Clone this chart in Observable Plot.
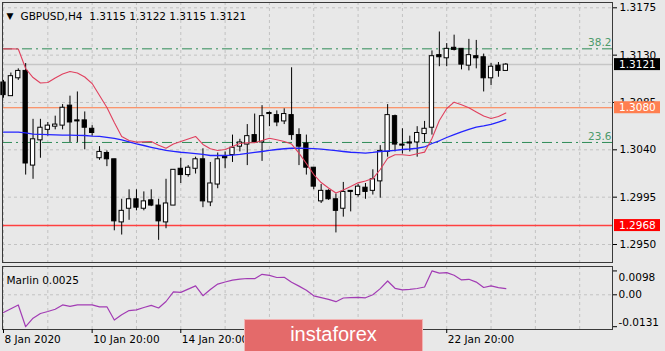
<!DOCTYPE html>
<html><head><meta charset="utf-8">
<script src="https://cdn.jsdelivr.net/npm/d3@7"></script>
<script src="https://cdn.jsdelivr.net/npm/@observablehq/plot@0.6"></script>
<style>
html,body{margin:0;padding:0;background:#e8e8e8;}
#chart{position:relative;width:665px;height:351px;overflow:hidden;background:#e8e8e8;font-family:"DejaVu Sans",sans-serif;}
#chart svg{position:absolute;left:0;}
#wm{position:absolute;left:244px;top:319px;width:177px;height:34px;background:#e46a6a;border:1px solid #f2b3b3;color:#fff;font:20px "Liberation Sans",Arial,sans-serif;text-align:center;line-height:29px;box-sizing:content-box;}
</style></head><body>
<div id="chart"><div id="wm">instaforex</div></div>
<script>
// ---- data (GBPUSD H4) ----
const opens  = [1.3104,1.3091,1.3108,1.3115,1.3025,1.3049,1.3059,1.3062,1.3063,1.3082,1.3068,1.3068,1.3060,1.3032,1.3037,1.3031,1.2971,1.2984,1.2993,1.2984,1.2992,1.2987,1.2971,1.2987,1.3022,1.3016,1.3022,1.3031,1.2990,1.3007,1.3034,1.3035,1.3043,1.3045,1.3054,1.3047,1.3074,1.3073,1.3067,1.3073,1.3054,1.3046,1.3023,1.2991,1.3001,1.2993,1.2984,1.3001,1.2997,1.3004,1.3001,1.3010,1.3038,1.3072,1.3045,1.3047,1.3047,1.3055,1.3061,1.3130,1.3127,1.3137,1.3136,1.3120,1.3129,1.3128,1.3108,1.3120,1.3115];
const highs  = [1.3106,1.3113,1.3117,1.3122,1.3069,1.3069,1.3066,1.3072,1.3083,1.3091,1.3095,1.3076,1.3063,1.3043,1.3039,1.3031,1.2993,1.3002,1.3002,1.3000,1.3002,1.2993,1.3012,1.3021,1.3032,1.3025,1.3033,1.3041,1.3028,1.3037,1.3038,1.3054,1.3050,1.3064,1.3074,1.3082,1.3076,1.3077,1.3079,1.3118,1.3060,1.3054,1.3023,1.3007,1.3002,1.2998,1.3009,1.3001,1.3007,1.3008,1.3021,1.3044,1.3083,1.3073,1.3060,1.3053,1.3062,1.3067,1.3134,1.3152,1.3141,1.3149,1.3136,1.3145,1.3144,1.3131,1.3122,1.3123,1.3122];
const lows   = [1.3089,1.3091,1.3106,1.3016,1.3012,1.3032,1.3053,1.3059,1.3059,1.3047,1.3047,1.3040,1.3053,1.3030,1.3024,1.2963,1.2959,1.2973,1.2982,1.2982,1.2986,1.2954,1.2965,1.2987,1.3008,1.3014,1.3017,1.2985,1.2986,1.3003,1.3022,1.3028,1.3038,1.3025,1.3047,1.3029,1.3062,1.3062,1.3064,1.3049,1.3025,1.3016,1.3002,1.2989,1.2992,1.2961,1.2976,1.2981,1.2995,1.2993,1.2997,1.2994,1.3033,1.3038,1.3036,1.3038,1.3033,1.3047,1.3054,1.3119,1.3119,1.3134,1.3116,1.3115,1.3117,1.3095,1.3101,1.3109,1.3115];
const closes = [1.3092,1.3110,1.3115,1.3027,1.3050,1.3061,1.3063,1.3064,1.3080,1.3066,1.3067,1.3061,1.3056,1.3038,1.3031,1.2972,1.2982,1.2993,1.2985,1.2991,1.2987,1.2972,1.2989,1.3021,1.3016,1.3023,1.3031,1.2991,1.3008,1.3031,1.3032,1.3042,1.3047,1.3053,1.3047,1.3072,1.3075,1.3066,1.3074,1.3054,1.3043,1.3023,1.3005,1.3001,1.2993,1.2982,1.3000,1.3000,1.3005,1.3000,1.3012,1.3039,1.3073,1.3045,1.3044,1.3046,1.3056,1.3060,1.3129,1.3128,1.3136,1.3135,1.3121,1.3130,1.3127,1.3108,1.3119,1.3115,1.3121];
const maRed  = [1.31360,1.31360,1.31358,1.31173,1.31087,1.31035,1.31040,1.31083,1.31120,1.31144,1.31130,1.31092,1.31030,1.30916,1.30802,1.30660,1.30527,1.30489,1.30473,1.30476,1.30479,1.30444,1.30415,1.30456,1.30479,1.30503,1.30527,1.30451,1.30410,1.30394,1.30403,1.30432,1.30460,1.30467,1.30467,1.30489,1.30510,1.30495,1.30479,1.30455,1.30369,1.30270,1.30165,1.30089,1.30037,1.29990,1.30018,1.30051,1.30086,1.30104,1.30127,1.30213,1.30320,1.30353,1.30353,1.30346,1.30362,1.30378,1.30508,1.30679,1.30793,1.30853,1.30828,1.30800,1.30760,1.30722,1.30698,1.30717,1.30750];
const maBlue = [1.30568,1.30568,1.30568,1.30562,1.30549,1.30546,1.30544,1.30542,1.30540,1.30539,1.30537,1.30536,1.30531,1.30528,1.30518,1.30508,1.30495,1.30476,1.30457,1.30441,1.30424,1.30408,1.30395,1.30386,1.30377,1.30371,1.30364,1.30357,1.30346,1.30346,1.30346,1.30350,1.30357,1.30367,1.30375,1.30384,1.30394,1.30403,1.30410,1.30415,1.30415,1.30414,1.30411,1.30407,1.30399,1.30392,1.30384,1.30377,1.30374,1.30369,1.30375,1.30384,1.30389,1.30394,1.30403,1.30408,1.30415,1.30427,1.30460,1.30486,1.30517,1.30544,1.30571,1.30595,1.30615,1.30627,1.30641,1.30664,1.30686];
const marlin = [-0.00727,-0.00571,-0.00419,-0.0131,-0.00961,-0.00768,-0.00686,-0.00595,-0.00415,-0.00472,-0.00411,-0.00411,-0.00411,-0.00493,-0.00493,-0.01035,-0.00821,-0.00649,-0.0062,-0.00522,-0.00435,-0.00542,-0.00275,0.00123,0.00099,0.00234,0.00366,-0.00037,0.00218,0.00439,0.00526,0.00604,0.00641,0.00669,0.00661,0.00842,0.00797,0.0071,0.00719,0.00517,0.00357,0.00189,-0.00041,-0.00115,-0.00189,-0.00283,-0.00131,-0.00115,-0.00103,-0.00123,0,0.00255,0.00567,0.00267,0.00205,0.00226,0.00259,0.0032,0.0098,0.00891,0.00912,0.00801,0.00612,0.00637,0.00522,0.003,0.00366,0.00296,0.0025];
const priceTicks = [1.3175,1.3130,1.3085,1.3040,1.2995,1.2950];
const fibLevels = [{price:1.3136,label:"38.2"},{price:1.3047,label:"23.6"}];
const levelOrange = 1.3080, levelRed = 1.2968, bidPrice = 1.3121;
const gridIdx = [0,6,12,18,24,30,36,42,48,54,60,66,72,78];
const timeTickIdx = [0,12,24,60];
const timeTickLabels = ["8 Jan 2020","10 Jan 20:00","14 Jan 20:00","22 Jan 20:00"];
const marlinTicks = [0.0098,0,-0.0131];
const marlinTickLabels = ["0.0098","0.00","-0.0131"];
const title = "GBPUSD,H4  1.3115 1.3122 1.3115 1.3121";
const indName = "Marlin 0.0025";

const rows = opens.map((o,i)=>({i,o,h:highs[i],l:lows[i],c:closes[i],red:maRed[i],blue:maBlue[i],m:marlin[i]}));
const timeTicks = timeTickIdx.map((i,k)=>({i,label:timeTickLabels[k]}));
const mTicks = marlinTicks.map((v,k)=>({v,label:marlinTickLabels[k]}));
const mLabelDy = [7, 0, -4]; // MT4 clamps the max/min labels inside the window

const xDomain = [-0.135, 82.44];
const FONT = "DejaVu Sans";
const gridStyle = {stroke:"#c2c2c2", strokeDasharray:"3,3", strokeWidth:1};

function priceBoxes(items){
  return (index, scales, values, dims) => {
    const g = d3.create("svg:g").attr("font-family", FONT).attr("font-size", 10.5).attr("text-anchor", "start");
    const x0 = dims.width - dims.marginRight + 2;
    for (const b of items){
      const y = scales.y(b.price);
      g.append("rect").attr("x", x0).attr("y", y - 6).attr("width", 46).attr("height", 12).attr("fill", b.bg);
      g.append("text").attr("x", x0 + 5).attr("y", y).attr("dy", "0.35em").attr("text-anchor", "start").attr("fill", b.fg).text(b.price.toFixed(4));
    }
    return g.node();
  };
}

const main = Plot.plot({
  width:665, height:264, marginLeft:2, marginRight:53, marginTop:2, marginBottom:2,
  style:{background:"transparent", fontFamily:FONT, fontSize:"10.5px", color:"#000"},
  x:{domain:xDomain, axis:null},
  y:{domain:[1.293289,1.318004], axis:null},
  marks:[
    Plot.ruleX(gridIdx, gridStyle),
    Plot.ruleY(priceTicks, gridStyle),
    Plot.ruleY([bidPrice], {stroke:"#c6c6c6", strokeWidth:1.5}),
    Plot.ruleY(fibLevels, {y:"price", stroke:"#2e8b57", strokeDasharray:"10,4,2,4"}),
    Plot.ruleY([levelOrange], {stroke:"#ff7a45", strokeWidth:1.2}),
    Plot.ruleY([levelRed], {stroke:"#ff4040", strokeWidth:1.4}),
    Plot.ruleX(rows, {x:"i", y1:"l", y2:"h", stroke:"#000", strokeWidth:1}),
    Plot.rect(rows, {x1:d=>d.i-0.29, x2:d=>d.i+0.29, y1:d=>Math.min(d.o,d.c), y2:d=>Math.max(d.o,d.c),
      fill:d=>d.c>d.o?"#fff":"#000", stroke:"#000", strokeWidth:1}),
    Plot.line(rows, {x:"i", y:"blue", stroke:"#2323ff", strokeWidth:1.3}),
    Plot.line(rows, {x:"i", y:"red", stroke:"#e0405e", strokeWidth:1.1}),
    Plot.text(fibLevels, {y:"price", text:"label", frameAnchor:"right", textAnchor:"end", dx:-1, dy:-6, fill:"#4c9a6a", fontSize:10.5}),
    Plot.frame({stroke:"#3a3a3a"}),
    Plot.axisY({anchor:"right", ticks:priceTicks, tickFormat:d=>d.toFixed(4), tickSize:4, tickPadding:3, stroke:"#000", fill:"#000", fontSize:10.5, label:null}),
    Plot.text(["\u25BC"], {frameAnchor:"top-left", dx:7.5, dy:10, textAnchor:"middle", fontSize:9, fill:"#000"}),
    Plot.text([title], {frameAnchor:"top-left", dx:18, dy:10, textAnchor:"start", fill:"#000", fontSize:10.5}),
    priceBoxes([
      {price:bidPrice, bg:"#000", fg:"#fff"},
      {price:levelOrange, bg:"#ff7f50", fg:"#fff"},
      {price:levelRed, bg:"#ff0000", fg:"#fff"}
    ])
  ]
});

const ind = Plot.plot({
  width:665, height:87, marginLeft:2, marginRight:53, marginTop:2, marginBottom:22,
  style:{background:"transparent", fontFamily:FONT, fontSize:"10.5px", color:"#000"},
  x:{domain:xDomain, axis:null},
  y:{domain:[-0.01425,0.01162], axis:null},
  marks:[
    Plot.ruleX(gridIdx, gridStyle),
    Plot.ruleY([0], gridStyle),
    Plot.line(rows, {x:"i", y:"m", stroke:"#a23cb4", strokeWidth:1.2}),
    Plot.frame({stroke:"#3a3a3a"}),
    Plot.axisY({anchor:"right", ticks:marlinTicks, tickFormat:()=>"", tickSize:4, stroke:"#000", label:null}),
    ...mTicks.map((t,k)=>Plot.text([t], {y:"v", text:"label", frameAnchor:"right", textAnchor:"start", dx:6, dy:mLabelDy[k], fill:"#000", fontSize:10.5})),
    Plot.axisX({anchor:"bottom", ticks:timeTickIdx, tickFormat:()=>"", tickSize:4, stroke:"#000", label:null}),
    Plot.text(timeTicks, {x:"i", text:"label", frameAnchor:"bottom", textAnchor:"start", lineAnchor:"top", dx:1, dy:6, fill:"#000", fontSize:10.5}),
    Plot.text([indName], {frameAnchor:"top-left", dx:4, dy:10, textAnchor:"start", fill:"#000", fontSize:10.5})
  ]
});

const chart = document.getElementById("chart");
chart.insertBefore(main, chart.firstChild);
chart.insertBefore(ind, document.getElementById("wm"));
main.style.position = "absolute"; main.style.top = "0px";
ind.style.position = "absolute"; ind.style.top = "264px";
</script>
</body></html>
